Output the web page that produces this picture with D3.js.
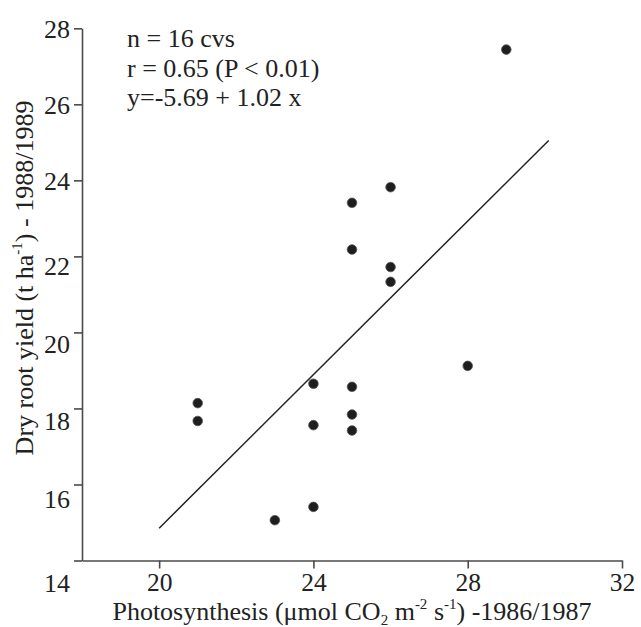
<!DOCTYPE html>
<html lang="en">
<head>
  <meta charset="UTF-8">
  <title>Dry root yield vs photosynthesis</title>
  <script src="https://d3js.org/d3.v7.min.js"></script>
  <style>
    body, html {
      margin: 0;
      padding: 0;
      background: #fff;
    }
    svg {
      display: block;
      font-family: "Liberation Serif", "DejaVu Serif", serif;
    }
    .axis path, .axis line {
      stroke: #4a4a4a;
      stroke-width: 1.6px;
    }
    .axis text {
      font-family: "Liberation Serif", serif;
      font-size: 26px;
      fill: #222;
    }
    .title {
      font-size: 26px;
      fill: #222;
    }
    .note {
      font-size: 26px;
      fill: #222;
    }
  </style>
</head>
<body>
  <svg width="641" height="627"></svg>

  <script>
    // photosynthesis 1986/1987 (x) and dry root yield 1988/1989 (y), 16 cultivars
    const photo = [29, 26, 25, 25, 26, 26, 28, 24, 25, 21, 25, 21, 24, 25, 24, 23];
    const yieldVals = [27.44, 23.82, 23.41, 22.18, 21.72, 21.33, 19.12, 18.65, 18.57, 18.14, 17.84, 17.67, 17.56, 17.42, 15.41, 15.06];

    // fitted line ends as drawn
    const lineX = [20, 30.1];
    const lineY = [14.85, 25.05];

    const xTicks = [20, 24, 28, 32];
    const yTicks = [14, 16, 18, 20, 22, 24, 26, 28];

    const notes = ["n = 16 cvs", "r = 0.65 (P < 0.01)", "y=-5.69 + 1.02 x"];

    const svg = d3.select("svg");

    const x = d3.scaleLinear().domain([18, 32]).range([82, 622]);
    const y = d3.scaleLinear().domain([14, 28]).range([560.5, 28.3]);

    // x axis
    const gx = svg.append("g")
      .attr("class", "axis")
      .attr("transform", `translate(0,${y(14)})`)
      .call(d3.axisBottom(x).tickValues(xTicks).tickSize(8).tickSizeOuter(0));
    gx.selectAll("text").attr("y", 12).attr("dy", "0.71em").style("font-size", "25.5px");

    // y axis
    const gy = svg.append("g")
      .attr("class", "axis")
      .attr("transform", `translate(${x(18)},0)`)
      .call(d3.axisLeft(y).tickValues(yTicks).tickSize(8).tickSizeOuter(0));

    // labels in the original drift a little downwards near the bottom
    const nudge = v => v >= 24 ? 0 : 9 + (22 - v) * 0.8;
    gy.selectAll(".tick text")
      .attr("x", -12)
      .attr("dy", "0.35em")
      .attr("y", d => d === 14 ? 22 : nudge(d));

    // regression line
    svg.append("line")
      .attr("x1", x(lineX[0])).attr("y1", y(lineY[0]))
      .attr("x2", x(lineX[1])).attr("y2", y(lineY[1]))
      .attr("stroke", "#222")
      .attr("stroke-width", 1.5);

    // points
    svg.selectAll(".pt")
      .data(photo.map((p, i) => [p, yieldVals[i]]))
      .enter().append("circle")
      .attr("class", "pt")
      .attr("cx", d => x(d[0]))
      .attr("cy", d => y(d[1]))
      .attr("r", 4.8)
      .attr("fill", "#1e1e1e")
      .attr("stroke", "#555")
      .attr("stroke-width", 0.8);

    // statistics text
    svg.selectAll(".note")
      .data(notes)
      .enter().append("text")
      .attr("class", "note")
      .attr("x", 127)
      .attr("y", (d, i) => 47 + i * 29.7)
      .text(d => d);

    // x title
    const xt = svg.append("text")
      .attr("class", "title")
      .attr("x", (x(18) + x(32)) / 2)
      .attr("y", 620)
      .attr("text-anchor", "middle");
    xt.append("tspan").text("Photosynthesis (\u03bcmol CO");
    xt.append("tspan").attr("font-size", "15px").attr("dy", 5).text("2");
    xt.append("tspan").attr("dy", -5).text(" m");
    xt.append("tspan").attr("font-size", "15px").attr("dy", -11).text("-2");
    xt.append("tspan").attr("dy", 11).text(" s");
    xt.append("tspan").attr("font-size", "15px").attr("dy", -11).text("-1");
    xt.append("tspan").attr("dy", 11).text(") -1986/1987");

    // y title
    const yt = svg.append("text")
      .attr("class", "title")
      .attr("transform", "translate(33,278) rotate(-90)")
      .attr("text-anchor", "middle");
    yt.append("tspan").text("Dry root yield (t ha");
    yt.append("tspan").attr("font-size", "15px").attr("dy", -11).text("-1");
    yt.append("tspan").attr("dy", 11).text(") - 1988/1989");
  </script>
</body>
</html>
